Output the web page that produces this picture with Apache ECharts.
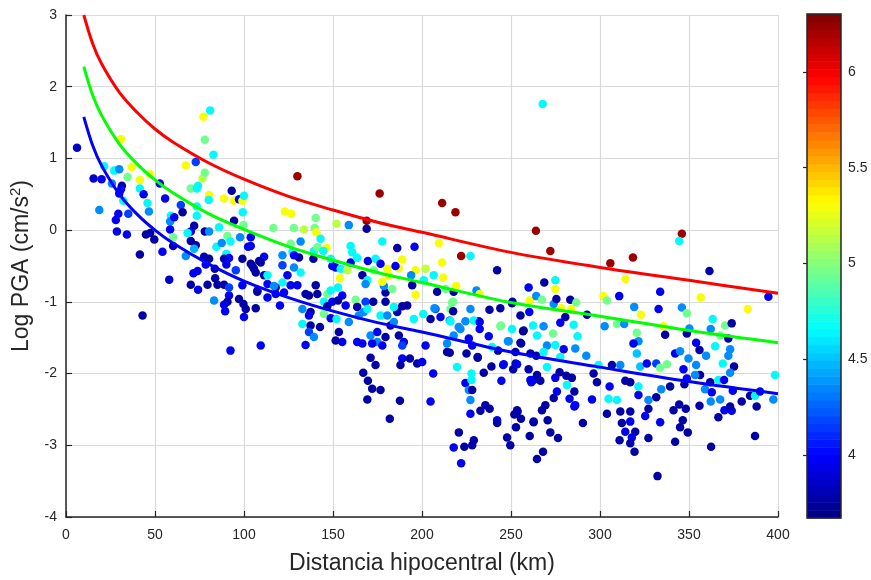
<!DOCTYPE html>
<html>
<head>
<meta charset="utf-8">
<script src="https://cdn.jsdelivr.net/npm/echarts@6/dist/echarts.min.js"></script>
<style>
html,body{margin:0;padding:0;background:#fff;}
#chart{width:871px;height:580px;}
</style>
</head>
<body>
<div id="chart"></div>
<script>
// ---- Axis ticks ----
const xTicks = [0, 50, 100, 150, 200, 250, 300, 350, 400];
const yTicks = [-4, -3, -2, -1, 0, 1, 2, 3];
const colorbarTicks = [4, 4.5, 5, 5.5, 6];
const magMin = 3.672;
const magMax = 6.302;

// ---- Attenuation curves [distance km, log PGA] ----
const curveDist = [10, 15, 20, 30, 40, 50, 60, 80, 100, 125, 150, 175, 200, 250, 300, 350, 400];
const curveRed   = [3.00, 2.60, 2.32, 1.92, 1.64, 1.41, 1.23, 0.94, 0.71, 0.47, 0.28, 0.11, -0.03, -0.31, -0.52, -0.70, -0.88];
const curveGreen = [2.28, 1.88, 1.60, 1.20, 0.92, 0.70, 0.52, 0.23, 0.01, -0.23, -0.42, -0.59, -0.73, -1.01, -1.20, -1.40, -1.57];
const curveBlue  = [1.58, 1.18, 0.90, 0.50, 0.22, 0.00, -0.18, -0.47, -0.71, -0.94, -1.13, -1.29, -1.42, -1.70, -1.91, -2.11, -2.28];

// ---- Records: [hypocentral distance km, log PGA, magnitude] ----
const records = [
[6.2,1.15,3.85],[30.9,1.27,5.3],[77.2,1.58,5.3],[81,1.67,4.65],[78,1.26,4.95],[82.8,1.05,4.65],[72.9,0.95,4.15],[67.3,0.90,5.3],
[21.5,0.89,4.65],[27.1,0.83,4.65],[29.9,0.85,4.35],[37,0.88,5.3],[34.6,0.74,4.95],[41.5,0.70,5.3],[47.3,0.78,5.3],[15.5,0.72,3.85],
[20,0.71,3.95],[25.8,0.65,4.35],[31.4,0.62,3.75],[30.9,0.57,3.95],[29.9,0.51,3.95],[41.5,0.58,4.65],[43.6,0.50,3.95],[52.7,0.65,3.95],
[32.2,0.41,4.65],[45.8,0.38,4.65],[55.7,0.44,3.95],[18.7,0.28,4.35],[29.4,0.23,3.95],[35,0.23,4.15],[46.6,0.26,4.35],[28,0.14,3.95],
[28.6,-0.02,3.95],[34.2,-0.06,3.95],[44.9,-0.06,3.75],[47.3,-0.04,3.75],[49.6,-0.13,3.75],[41.5,-0.34,3.75],[54.2,-0.30,3.95],[58,-0.69,3.85],
[43,-1.19,3.75],[60.2,-0.22,3.75],[58.9,0.20,4.65],[58.5,0.12,4.35],[58.5,0.01,3.95],[60.8,0.18,3.95],[64.5,0.35,4.15],[65.5,0.25,3.75],
[60.2,-0.10,4.95],[67.3,-0.36,4.35],[70.1,0.58,4.95],[73.5,0.58,4.65],[74.2,0.62,4.65],[76.7,0.72,5.15],[78,0.80,4.95],[80.4,0.49,5.3],
[80.2,0.42,4.65],[73.5,0.33,4.65],[73.5,0.20,4.65],[72,0.06,3.75],[70.1,-0.02,3.95],[68.3,-0.04,4.65],[70.1,-0.15,3.75],[72.9,-0.21,3.75],
[72,-0.26,4.45],[78,-0.02,3.75],[80.4,-0.02,4.35],[84.5,-0.23,4.65],[87.5,-0.18,4.35],[90.7,-0.08,4.95],[92.4,-0.16,4.65],[88.8,0.44,5.3],
[93.1,0.55,3.75],[94.4,0.41,5.3],[97.2,0.43,3.95],[99.1,0.41,5.3],[100,0.48,4.65],[99.3,0.25,4.65],[94.4,0.13,3.75],[99.7,0.07,4.95],
[97.8,-0.10,4.35],[103.8,-0.10,3.95],[102.3,-0.23,3.95],[86,0.04,4.65],[90.1,-0.33,4.65],[88.8,-0.40,3.75],[91.6,-0.39,3.95],[77.6,-0.37,3.75],
[80.4,-0.40,3.75],[78.5,-0.48,3.95],[73.9,-0.57,3.95],[71.6,-0.60,3.95],[83.6,-0.54,3.75],[83.8,-0.67,3.75],[79.5,-0.76,3.75],[85.1,-0.76,3.75],
[88.8,-0.76,3.75],[70.1,-0.76,3.75],[74.2,-0.83,3.95],[91.6,-0.80,4.15],[95.4,-0.56,4.15],[99.1,-0.40,3.75],[104.7,-0.50,3.75],[106.6,-0.59,3.75],
[99.1,-0.77,3.95],[91.6,-0.91,3.95],[90.7,-1.00,3.75],[97.2,-0.96,3.75],[99.7,-1.03,3.75],[101,-1.10,3.75],[106.6,-1.09,3.75],[107.5,-0.84,3.75],
[83.2,-0.98,4.35],[88.8,-1.04,3.95],[89.4,-1.13,3.95],[100,-1.21,3.95],[92.4,-1.68,3.95],[109.4,-1.61,3.95],[130,0.75,6.25],[123,0.26,5.3],
[126.6,0.23,5.3],[116.5,0.03,4.95],[128,0.03,4.95],[131.8,-0.16,4.35],
[176.2,0.51,6.25],[211.3,0.38,6.25],[168.9,0.13,6.25],[168.9,0.02,3.75],[158.9,0.07,4.35],[152,0.09,5.15],[140.3,0.17,4.95],[133.7,0.01,5.15],
[139.7,0.03,4.95],[140.6,-0.03,5.3],[143,-0.12,4.65],[126.2,-0.19,4.95],[127.2,-0.30,4.65],[139.3,-0.29,4.65],[141.2,-0.24,4.95],[146.4,-0.25,5.3],
[144.6,-0.29,4.65],[139,-0.40,3.75],[130.9,-0.38,3.75],[128.1,-0.35,3.95],[111.3,-0.37,3.95],[108.5,-0.43,3.75],[103.8,-0.22,3.95],[121.6,-0.35,4.35],
[121.6,-0.49,4.15],[128.1,-0.52,4.35],[131.8,-0.59,4.65],[103.8,-0.47,3.75],[105.6,-0.54,3.75],[111.3,-0.63,3.75],[113.2,-0.75,3.95],[124.4,-0.63,3.95],
[121.6,-0.73,4.65],[126.2,-0.77,3.95],[107.5,-0.86,3.75],[113.2,-0.94,3.95],[117.8,-0.80,3.75],[117.8,-0.89,3.95],[122.5,-0.87,3.95],[130,-0.77,3.95],
[134.6,-0.89,3.75],[140.3,-0.77,3.75],[141.2,-0.89,3.75],[136.5,-0.91,3.75],[120.2,-1.05,3.95],[132.8,-1.10,4.35],[137.4,-1.14,3.75],[136.5,-1.19,3.95],
[132.8,-1.31,4.65],[137.4,-1.33,3.75],[142.7,-1.35,3.75],[136.5,-1.42,4.15],[139.3,-1.49,4.35],[134.6,-1.60,3.95],[144.9,-1.00,4.65],[144.9,-1.17,4.95],
[146.8,-1.06,3.75],[149.6,-1.00,3.95],[148.7,-1.23,3.95],[152,-1.24,4.65],[146.8,-0.89,4.95],[148.7,-0.84,4.65],[152.8,-0.80,4.65],[152.8,-0.98,3.75],
[157.1,-1.05,3.95],[155.2,-0.91,3.95],[151.5,-0.52,3.95],[149.6,-0.50,3.95],[154.3,-0.54,4.65],[158,-0.56,5.15],[159.9,-0.45,3.95],[159.9,-0.22,4.65],
[160.8,-0.31,4.65],[163.6,-0.39,4.65],[153.9,-0.67,5.3],[166.5,-0.63,3.75],[169.6,-0.43,3.95],[173.9,-0.40,4.65],[173,-0.56,4.95],[169.3,-0.70,4.65],
[168.3,-0.75,4.35],[162.7,-0.97,4.95],[163.6,-1.07,3.75],[158.9,-1.28,4.35],[164.5,-1.19,4.35],[167.3,-1.14,4.35],[168.3,-1.00,4.15],[172.6,-1.00,3.75],
[176.7,-1.19,4.65],[179.5,-1.00,3.75],[179.5,-0.87,3.75],[178.6,-0.78,4.35],[177.7,-0.72,5.3],[181.4,-0.64,5.3],[180.5,-0.54,5.3],[176.7,-0.47,3.95],
[183.3,-0.82,4.95],[186.1,-0.25,3.75],[188.9,-0.41,5.3],[187,-0.53,5.3],[185.1,-0.50,3.95],[196.4,-0.56,5.3],[195.8,-0.23,3.95],[202,-0.54,5.15],
[193.9,-0.63,4.35],[194.5,-0.77,3.75],[196.4,-0.90,5.3],[201,-0.70,4.65],[206.6,-0.63,4.65],[208.5,-0.86,3.75],[209.5,-0.18,5.3],[211.3,-0.45,5.3],
[211.9,-0.66,5.3],[177.7,-0.16,4.65],[148.7,-0.40,4.65],[169.3,-1.10,4.65],[171.1,-1.47,4.35],[174.9,-1.56,4.35],[172,-1.58,3.95],[177.7,-1.61,3.95],
[179.5,-1.49,3.75],[174.9,-1.42,3.95],[166.5,-1.58,3.95],[163.6,-1.56,3.95],[155.2,-1.56,3.95],[151.5,-1.54,3.75],[153.3,-1.42,3.75],[182.3,-1.33,3.75],
[187,-1.47,3.75],[189.8,-1.56,3.95],[188.9,-1.79,3.95],[193.2,-1.79,3.75],[197.3,-1.86,3.75],[200.1,-1.84,3.95],[206.3,-2.00,3.95],[188.9,-1.61,4.15],
[202,-1.61,3.95],[204.8,-1.24,3.75],[207.6,-1.10,4.15],[214.1,-1.70,3.75],[200.7,-1.17,4.65],[195.4,-1.24,4.65],[191.7,-1.05,3.75],[188.9,-1.06,3.75],
[186.1,-1.14,3.75],[184.2,-1.07,4.65],[180.5,-1.19,4.35],[184.2,-1.28,4.35],[167,-1.99,3.75],[169.6,-2.10,3.75],[172,-2.21,3.75],[176.7,-2.23,3.75],
[169.3,-2.36,3.75],[173.9,-1.88,3.75],[171.1,-1.78,3.75],[187.6,-2.38,3.75],[181.9,-2.63,3.75],[204.8,-2.39,3.95],[210.4,-1.21,3.95],[216,-1.10,4.95],
[213.2,-0.82,4.95],
[220.7,-2.82,3.75],[217.8,-3.03,3.95],[223.8,-3.02,3.75],[229.1,-2.93,3.75],[228.2,-3.00,3.75],[222,-3.25,3.95],[187.9,-1.88,3.75],[219.7,-1.91,4.65],
[224.4,-2.13,3.95],[227.8,-2.00,4.65],[227.8,-2.09,4.65],[226.3,-2.23,4.35],[228.2,-2.23,3.75],[227.2,-2.37,4.35],[227.2,-2.56,3.95],[232.8,-2.52,3.75],
[235.6,-2.44,3.75],[238,-2.49,3.75],[242.2,-2.65,3.95],[242.2,-2.69,3.75],[247.8,-2.89,3.75],[249.6,-3.00,3.75],[252.8,-2.75,3.75],[251.9,-2.57,3.75],
[253.7,-2.53,3.75],[255.6,-2.63,3.75],[260.5,-2.87,3.75],[262.7,-2.67,3.75],[264.6,-3.19,3.75],[234.7,-1.99,3.75],[239,-1.90,3.75],[244.6,-2.10,3.95],
[245.6,-1.88,3.95],[252.6,-1.86,3.75],[259.9,-1.94,3.75],[261.4,-2.12,3.95],[242.2,-0.56,3.75],[259.9,-0.80,3.95],[260.5,-0.98,5.3],[250.6,-1.02,3.75],
[244,-1.09,3.75],[237.9,-1.11,3.75],[260.3,-1.14,3.95],[255.3,-1.19,3.75],[250.6,-1.38,4.65],[257.1,-1.40,3.75],[244,-1.34,4.95],[248.7,-1.55,4.35],
[255.3,-1.57,3.75],[242.7,-1.68,3.75],[239.4,-1.63,4.65],[237.5,-1.48,3.95],[231.9,-1.27,3.95],[232.4,-1.38,3.95],[227.2,-1.10,4.35],[224.4,-1.27,4.35],
[221.6,-1.38,4.35],[226.3,-1.51,3.95],[228.2,-1.61,3.95],[231.3,-1.77,3.75],[225,-1.72,3.75],[215.6,-1.71,3.75],[214.1,-1.58,4.35],[217.8,-1.47,4.35],
[217.5,-1.13,3.75],[215.6,-1.26,4.35],[217.5,-1.00,4.95],[217.8,-0.86,3.75],[219.2,-0.78,5.3],[222,-0.36,6.25],[227.2,-0.36,4.65],[207,-1.09,4.35],
[218.8,0.25,6.25],[264,-0.01,6.25],[272.1,-0.29,6.25],[305.8,-0.46,6.25],[268.7,-0.73,3.75],[274.9,-0.70,4.65],[274.9,-0.82,5.3],[264.2,-0.92,4.35],
[267.4,-0.97,4.95],[274,-1.03,4.35],[275.5,-0.96,3.75],[278.1,-1.09,5.3],[283.3,-0.97,3.75],[283.9,-1.10,5.3],[292.7,-1.18,3.75],[302,-0.92,5.3],
[303.9,-0.98,4.95],[310.8,-0.92,3.95],[314.3,-0.68,5.3],[302.6,-1.34,4.35],[309.5,-1.31,4.95],[313.6,-1.31,4.35],[250.8,-1.00,3.75],[230.6,-0.84,4.35],
[232.4,-0.89,5.3],[216.9,-1.01,4.95],[229.1,-1.26,4.65],[232.4,-1.28,3.95],[216,-1.27,4.65],[220.6,-1.35,4.35],[244.4,-1.33,4.95],[256.8,-1.41,3.75],
[262.4,-1.33,4.65],[264.6,-1.47,4.65],[268.3,-1.34,4.35],[273.6,-1.44,4.95],[270.2,-1.61,4.35],[274.9,-1.60,4.65],[279.6,-1.66,3.95],[285.2,-1.32,4.65],
[287.4,-1.48,4.65],[286.1,-1.65,4.35],[292.3,-1.75,4.35],[277.7,-1.77,4.65],[248.3,-1.55,4.35],[255.7,-1.58,3.75],[252.5,-1.70,3.75],[260.9,-1.72,3.75],
[264.2,-1.75,3.75],[268.3,-1.70,4.65],[231.3,-1.78,3.75],[245.9,-1.87,3.95],[251.2,-1.94,3.75],[253.4,-1.87,3.95],[262.7,-2.09,3.95],[264.6,-2.02,3.75],
[266.5,-2.10,3.75],[270.2,-1.91,4.65],[274.9,-2.06,3.95],[277.3,-1.98,3.75],[281.1,-2.03,3.75],[284.2,-2.06,3.75],[281.4,-2.16,4.65],[285.6,-2.25,3.75],
[282.9,-2.35,3.95],[285.6,-2.46,3.95],[274,-2.34,3.75],[275.8,-2.25,3.95],[269.3,-2.44,3.75],[267.4,-2.51,3.75],[270.6,-2.65,3.75],[272.1,-2.82,3.75],
[276.4,-2.90,3.75],[262.7,-2.68,3.75],[268,-3.09,3.75],[253.4,-2.51,3.75],[260.9,-2.09,3.95],[296.4,-2.00,3.75],[298.3,-2.12,3.75],[306.7,-1.88,3.75],
[311.4,-1.88,4.35],[305.4,-2.18,3.95],[304.8,-2.35,4.65],[309.5,-2.37,4.65],[303.9,-2.56,3.75],[311.4,-2.53,3.75],[312.3,-2.69,3.75],[311,-2.93,3.75],
[290.4,-2.69,3.75],[314.2,-2.10,3.75],
[346,-0.05,6.25],[344.5,-0.15,4.65],[318.5,-0.38,6.25],[361.5,-0.57,3.75],[333.8,-0.86,3.95],[356.6,-0.94,5.3],[394.6,-0.93,3.95],[383,-1.10,5.3],
[319.2,-1.07,4.35],[323,-1.18,5.3],[332.9,-1.10,3.95],[346,-1.08,4.35],[348.8,-1.16,4.95],[335.7,-1.34,5.3],[336.6,-1.46,3.75],[320.7,-1.43,4.95],
[321.6,-1.55,4.35],[318.8,-1.58,3.95],[320.7,-1.72,4.5],[350.2,-1.37,4.35],[348.8,-1.44,3.75],[354,-1.57,3.95],[355.9,-1.67,3.75],[342.2,-1.72,3.95],
[345,-1.69,4.35],[349.7,-1.79,4.35],[354,-1.88,4.35],[359.6,-1.75,4.35],[363.3,-1.24,4.65],[362.2,-1.38,4.35],[364.7,-1.62,4.65],[367.5,-1.47,4.95],
[370.3,-1.33,4.95],[374,-1.30,3.75],[372.1,-1.51,3.75],[373.1,-1.66,4.35],[372.1,-1.75,4.35],[369,-1.86,4.65],[375.3,-1.90,3.75],[373.1,-1.99,4.35],
[398.3,-2.02,4.65],[322.6,-1.90,4.5],[326.3,-1.86,3.95],[331.6,-1.86,4.15],[337.6,-1.87,4.95],[333.8,-1.92,4.95],[346.9,-1.94,3.95],[348.8,-2.07,3.95],
[347.4,-2.15,3.75],[356.2,-2.02,3.75],[353.4,-2.02,4.35],[361.9,-2.12,3.75],[359,-2.22,4.35],[362.8,-2.26,3.95],[366.5,-2.09,4.65],[369.7,-2.09,3.95],
[362.2,-2.39,4.35],[367.5,-2.36,4.35],[374.6,-2.24,3.95],[379.6,-2.39,3.75],[384.3,-2.31,3.75],[387.1,-2.31,4.65],[389.9,-2.25,3.95],[397.4,-2.36,4.35],
[388,-2.46,3.75],[366.5,-2.61,3.75],[369.9,-2.51,3.95],[374,-2.52,3.95],[373.1,-2.46,3.75],[355.9,-2.45,3.75],[348.2,-2.49,3.75],[344.5,-2.43,3.75],
[341.3,-2.51,3.75],[346.5,-2.65,3.75],[345,-2.75,3.75],[349.3,-2.82,3.75],[342.2,-2.95,3.75],[333.8,-2.68,3.95],[327.2,-2.90,3.75],[327.2,-2.49,3.75],
[325.4,-2.59,3.95],[331.6,-2.33,3.75],[339.4,-2.18,3.75],[334.4,-2.22,4.35],[327.2,-2.37,4.35],[321.6,-2.30,3.95],[321.6,-2.18,4.65],[317,-2.53,3.75],
[317,-2.67,3.95],[319.8,-2.81,3.75],[317.9,-2.89,3.95],[319.4,-3.09,3.75],[317,-2.97,3.75],[314.2,-2.81,3.95],[362.4,-3.02,3.75],[387.1,-2.87,3.75],
[332.3,-3.43,3.75],[317,-2.12,3.75],
[286.7,-1.01,4.95],[280.5,-1.21,3.75],[277.7,-1.29,3.95],[299.2,-1.88,4.65],[295.5,-2.36,3.95],[286.1,-2.44,3.95],[267.8,1.76,4.65],
[90.1,-0.48,3.95],[109.4,-0.45,3.75],[113.2,-0.63,4.65],[116.9,-0.78,4.35]
];

// ---- jet colormap (64 levels, as in the colorbar) ----
function clamp01(v){ return Math.max(0, Math.min(1, v)); }
function jet(t){
  const r = clamp01(Math.min(4*t - 1.5, -4*t + 4.5));
  const g = clamp01(Math.min(4*t - 0.5, -4*t + 3.5));
  const b = clamp01(Math.min(4*t + 0.5, -4*t + 2.5));
  const h = v => Math.round(v*255).toString(16).padStart(2,'0');
  return '#' + h(r) + h(g) + h(b);
}
const nLevels = 64;
const jetColors = [];
for (let i = 0; i < nLevels; i++) jetColors.push(jet((i + 0.5) / nLevels));
const colorbarBins = [];
for (let i = 0; i < nLevels; i++) {
  colorbarBins.push([magMin + (magMax - magMin) * i / nLevels, magMin + (magMax - magMin) * (i + 1) / nLevels, i]);
}

const FONT = "'Liberation Sans', Arial, sans-serif";
const TXT = '#262626';

const chart = echarts.init(document.getElementById('chart'), null, {renderer: 'canvas'});
const lineSeries = (data, color) => ({
  type: 'line', xAxisIndex: 0, yAxisIndex: 0,
  data: curveDist.map((d, i) => [d, data[i]]),
  smooth: 0.35, showSymbol: false, symbol: 'none',
  lineStyle: {color: color, width: 3}, z: 5, silent: true
});

chart.setOption({
  animation: false,
  backgroundColor: '#ffffff',
  grid: [
    {left: 65, top: 15, width: 713, height: 504},
    {left: 807, top: 14, width: 34, height: 504}
  ],
  xAxis: [
    {
      type: 'value', gridIndex: 0, min: 0, max: 400, interval: 50,
      name: 'Distancia hipocentral (km)', nameLocation: 'middle', nameGap: 35,
      nameTextStyle: {fontFamily: FONT, fontSize: 23, color: TXT},
      axisLine: {show: true, onZero: false, lineStyle: {color: TXT, width: 1.5}},
      axisTick: {show: true, inside: true, length: 6, lineStyle: {color: TXT, width: 1.2}},
      axisLabel: {fontFamily: FONT, fontSize: 14, color: TXT, margin: 11},
      splitLine: {show: true, lineStyle: {color: '#dadada', width: 1.2}}
    },
    {type: 'value', gridIndex: 1, min: 0, max: 1, show: false}
  ],
  yAxis: [
    {
      type: 'value', gridIndex: 0, min: -4, max: 3, interval: 1,
      name: 'Log PGA (cm/s{sup|2})', nameLocation: 'middle', nameGap: 31,
      nameTextStyle: {fontFamily: FONT, fontSize: 23, color: TXT,
        rich: {sup: {fontFamily: FONT, fontSize: 15, color: TXT, padding: [0, 0, 12, 0]}}},
      axisLine: {show: true, onZero: false, lineStyle: {color: TXT, width: 1.5}},
      axisTick: {show: true, inside: true, length: 6, lineStyle: {color: TXT, width: 1.2}},
      axisLabel: {fontFamily: FONT, fontSize: 14, color: TXT, margin: 9},
      splitLine: {show: true, lineStyle: {color: '#dadada', width: 1.2}}
    },
    {
      type: 'value', gridIndex: 1, min: magMin, max: magMax, position: 'right',
      axisLine: {show: false},
      axisTick: {show: true, inside: true, length: 4, customValues: colorbarTicks, lineStyle: {color: TXT, width: 1.2}},
      axisLabel: {show: true, customValues: colorbarTicks, fontFamily: FONT, fontSize: 14, color: TXT, margin: 7,
        formatter: v => String(v)},
      splitLine: {show: false}
    }
  ],
  visualMap: {
    type: 'continuous', show: false, seriesIndex: 0, dimension: 2,
    min: magMin, max: magMax, inRange: {color: jetColors}
  },
  series: [
    {
      type: 'scatter', xAxisIndex: 0, yAxisIndex: 0,
      data: records, symbolSize: 8.5, itemStyle: {opacity: 1}, z: 3, silent: true
    },
    lineSeries(curveRed, '#ff0000'),
    lineSeries(curveGreen, '#00ff00'),
    lineSeries(curveBlue, '#0000ff'),
    {
      type: 'custom', xAxisIndex: 1, yAxisIndex: 1, silent: true, z: 2,
      data: colorbarBins,
      renderItem: (params, api) => {
        const p1 = api.coord([0, api.value(0)]);
        const p2 = api.coord([1, api.value(1)]);
        return {
          type: 'rect',
          shape: {x: p1[0], y: p2[1], width: p2[0] - p1[0], height: p1[1] - p2[1] + 0.6},
          style: {fill: jetColors[api.value(2)]}
        };
      }
    },
    {
      type: 'custom', xAxisIndex: 1, yAxisIndex: 1, silent: true, z: 4,
      data: [[0, magMin, 1, magMax]],
      renderItem: (params, api) => {
        const p1 = api.coord([api.value(0), api.value(1)]);
        const p2 = api.coord([api.value(2), api.value(3)]);
        return {
          type: 'rect',
          shape: {x: p1[0], y: p2[1], width: p2[0] - p1[0], height: p1[1] - p2[1]},
          style: {fill: 'none', stroke: TXT, lineWidth: 1.5}
        };
      }
    }
  ]
});
</script>
</body>
</html>
